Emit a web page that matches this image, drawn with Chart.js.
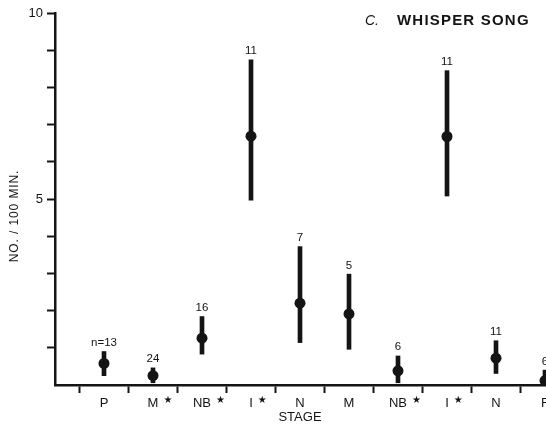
<!DOCTYPE html>
<html lang="en">
<head>
<meta charset="UTF-8" />
<title>Whisper Song</title>
<script src="https://cdn.jsdelivr.net/npm/chart.js"></script>
<style>
  body { margin: 0; background: #fff; }
  canvas { display: block; }
</style>
</head>
<body>
<canvas id="songChart" width="546" height="438"></canvas>
<script>
const stages = ['P', 'M', 'NB', 'I', 'N', 'M', 'NB', 'I', 'N', 'F'];
const starred = [false, true, true, true, false, false, true, true, false, false];
const means = [0.58, 0.25, 1.26, 6.69, 2.2, 1.91, 0.38, 6.68, 0.72, 0.12];
const upper = [0.9, 0.46, 1.84, 8.74, 3.72, 2.98, 0.78, 8.45, 1.19, 0.4];
const lower = [0.25, 0.06, 0.83, 4.97, 1.14, 0.96, 0.06, 5.08, 0.31, 0];
const sampleSizes = ['n=13', '24', '16', '11', '7', '5', '6', '11', '11', '6'];
const labeledTicks = [5, 10];

const ink = '#141414';
const face = '"Liberation Sans", Arial, sans-serif';

// empty first slot so P sits one step right of the y axis
const labels = [''].concat(stages);
const pad = arr => [null].concat(arr);

const extras = {
  id: 'extras',
  afterDraw(chart) {
    const { ctx, scales: { x, y } } = chart;
    ctx.save();
    ctx.fillStyle = ink;

    // sample sizes above each range
    ctx.textAlign = 'center';
    ctx.textBaseline = 'bottom';
    ctx.font = '11.5px ' + face;
    sampleSizes.forEach((n, i) => {
      ctx.fillText(n, x.getPixelForValue(i + 1), y.getPixelForValue(upper[i]) - 3);
    });

    // stars after the marked stage labels
    ctx.font = '13px ' + face;
    const widths = stages.map(s => ctx.measureText(s).width);
    ctx.font = '10px "DejaVu Sans"';
    ctx.textAlign = 'left';
    ctx.textBaseline = 'middle';
    stages.forEach((s, i) => {
      if (!starred[i]) return;
      ctx.fillText('★', x.getPixelForValue(i + 1) + widths[i] / 2 + 5, x.top + 15);
    });

    // panel heading
    ctx.textBaseline = 'middle';
    ctx.font = 'italic 14px ' + face;
    ctx.fillText('C.', 365, 21);
    ctx.font = 'bold 15px ' + face;
    ctx.letterSpacing = '1.2px';
    ctx.fillText('WHISPER SONG', 397, 21);

    // y axis title
    ctx.letterSpacing = '0.9px';
    ctx.font = '12px ' + face;
    ctx.textAlign = 'center';
    ctx.translate(15, 216);
    ctx.rotate(-Math.PI / 2);
    ctx.fillText('NO. / 100 MIN.', 0, 0);
    ctx.restore();
  }
};

new Chart(document.getElementById('songChart'), {
  type: 'bar',
  data: {
    labels: labels,
    datasets: [
      {
        type: 'line',
        data: pad(means),
        showLine: false,
        pointRadius: 5.5,
        pointBorderWidth: 0,
        pointBackgroundColor: ink,
        clip: false,
        order: 1
      },
      {
        data: pad(lower.map((lo, i) => [lo, upper[i]])),
        backgroundColor: ink,
        borderWidth: 0,
        barThickness: 4,
        clip: false,
        order: 2
      }
    ]
  },
  options: {
    responsive: false,
    animation: false,
    layout: { autoPadding: false, padding: { top: 13, right: 1, left: 0, bottom: 0 } },
    plugins: {
      legend: { display: false },
      tooltip: { enabled: false }
    },
    scales: {
      x: {
        type: 'category',
        offset: false,
        grid: {
          drawOnChartArea: false,
          tickLength: 8,
          tickWidth: 2,
          tickColor: c => (c.index === 0 ? 'transparent' : ink)
        },
        border: { color: ink, width: 2.5 },
        ticks: {
          color: ink,
          font: { family: face, size: 13 },
          autoSkip: false,
          maxRotation: 0,
          padding: 3
        },
        title: {
          display: true,
          text: 'STAGE',
          color: ink,
          font: { family: face, size: 13 },
          padding: { top: 0, bottom: 13 }
        },
        afterFit: s => { s.height = 53; s.paddingLeft = 0; s.paddingRight = 0; }
      },
      y: {
        min: 0,
        max: 10,
        grid: {
          drawOnChartArea: false,
          tickLength: 8,
          tickWidth: 2,
          tickColor: c => (c.tick && c.tick.value === 0 ? 'transparent' : ink)
        },
        border: { color: ink, width: 2.5 },
        ticks: {
          stepSize: 1,
          color: ink,
          padding: 4,
          font: { family: face, size: 13 },
          callback: v => (labeledTicks.includes(v) ? v : '')
        },
        afterFit: s => { s.width = 55; s.paddingTop = 0; s.paddingBottom = 0; }
      }
    }
  },
  plugins: [extras]
});
</script>
</body>
</html>
